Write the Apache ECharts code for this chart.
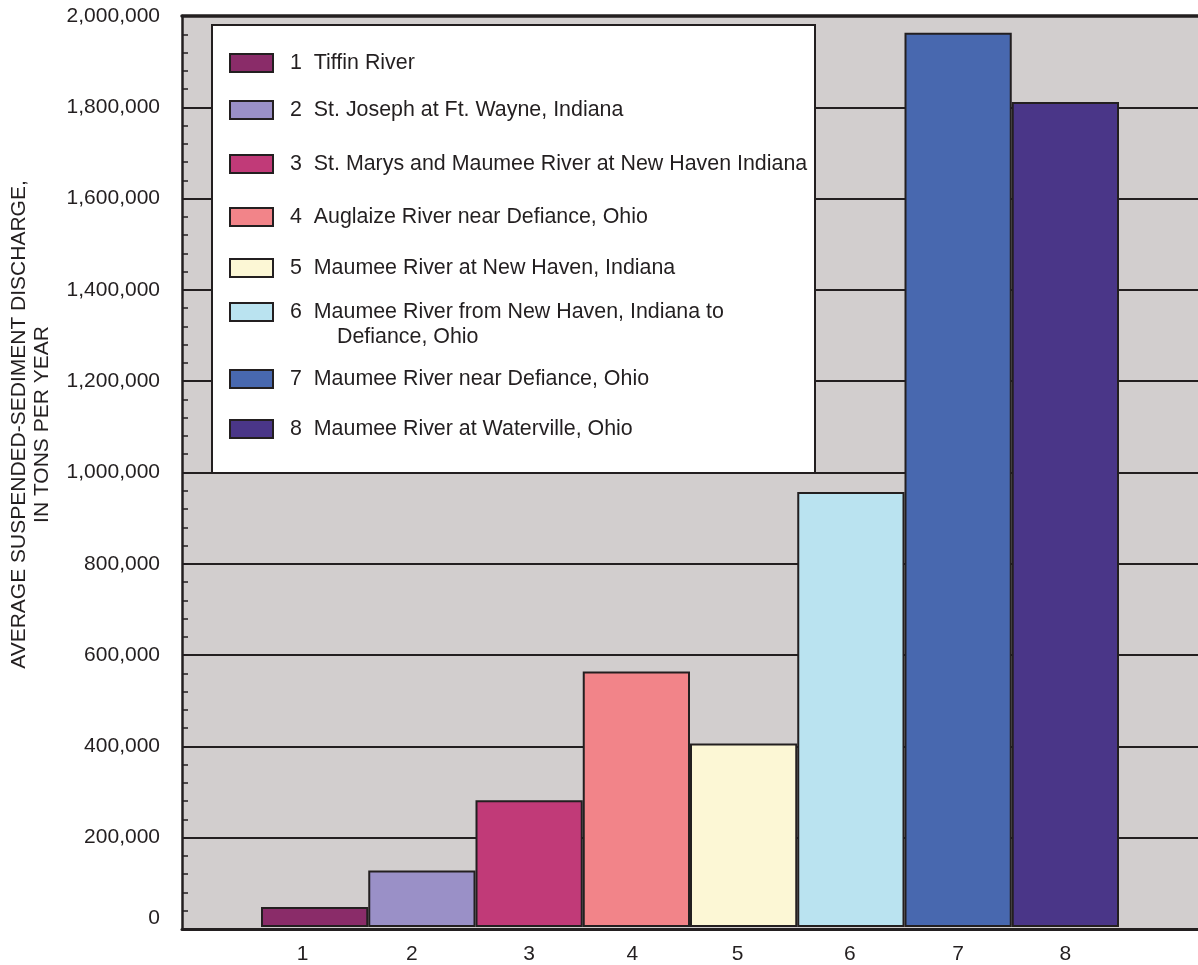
<!DOCTYPE html>
<html>
<head>
<meta charset="utf-8">
<script src="https://cdn.jsdelivr.net/npm/echarts@6/dist/echarts.min.js"></script>
<style>
  html, body { margin: 0; padding: 0; background: #ffffff; }
  #chart { width: 1198px; height: 965px; }
</style>
</head>
<body>
<div id="chart"></div>
<script>
// ---- data ----
const categories = ['1', '2', '3', '4', '5', '6', '7', '8'];
const siteNames = [
  '1  Tiffin River',
  '2  St. Joseph at Ft. Wayne, Indiana',
  '3  St. Marys and Maumee River at New Haven Indiana',
  '4  Auglaize River near Defiance, Ohio',
  '5  Maumee River at New Haven, Indiana',
  '6  Maumee River from New Haven, Indiana to\nDefiance, Ohio',
  '7  Maumee River near Defiance, Ohio',
  '8  Maumee River at Waterville, Ohio'
];
const dischargeValues = [44000, 124000, 278000, 561000, 403000, 955000, 1963000, 1811000];
const barColors = ['#8A2C69', '#9A90C7', '#C13A78', '#F28489', '#FCF7D5', '#BAE3F0', '#4868AF', '#4A3688'];
const yMin = 0, yMax = 2000000, yStep = 200000;
const yAxisTitle = 'AVERAGE SUSPENDED-SEDIMENT DISCHARGE,\nIN TONS PER YEAR';

// ---- layout ----
const FONT = '"Liberation Sans", Arial, Helvetica, sans-serif';
const INK = '#231F20';
const legendIconCenters = [63, 110, 164, 217, 268, 312, 379, 429];
const LEG_FS = 21.4;
// small leftward nudges of the category labels, as in the original artwork (px)
const xLabelNudge = [12, 10, 0, 4, 6, 1, 0, 0];

function fmt(v) {
  return String(v).replace(/\B(?=(\d{3})+(?!\d))/g, ',');
}

const chart = echarts.init(document.getElementById('chart'), null, { renderer: 'canvas' });

const series = siteNames.map((name, i) => ({
  name: name,
  type: 'bar',
  xAxisIndex: 2,
  yAxisIndex: 1,
  stack: 'all',
  barWidth: '100%',
  data: categories.map((c, j) => (j === i ? dischargeValues[i] : '-')),
  itemStyle: { color: barColors[i], borderColor: INK, borderWidth: 2 },
  emphasis: { disabled: true },
  z: 3
}));

const legends = siteNames.map((name, i) => {
  const twoLine = name.indexOf('\n') >= 0;
  return {
    data: [name],
    orient: 'vertical',
    left: 229,
    top: twoLine ? legendIconCenters[i] - 37.5 : legendIconCenters[i] - 11,
    padding: 0,
    itemWidth: 43,
    itemHeight: 18,
    icon: 'rect',
    selectedMode: false,
    z: 60,
    itemStyle: { borderColor: INK, borderWidth: 2 },
    formatter: function (n) {
      const parts = n.split('\n');
      if (parts.length > 1) {
        return '{a|' + parts[0] + '}\n{b|' + parts[1] + '}';
      }
      return '{a|' + n + '}';
    },
    textStyle: {
      fontFamily: FONT,
      fontSize: LEG_FS,
      color: INK,
      lineHeight: twoLine ? 25 : 22,
      padding: twoLine ? [25, 0, 0, 0] : 0,
      rich: {
        a: { fontFamily: FONT, fontSize: LEG_FS, color: INK, lineHeight: twoLine ? 25 : 22, padding: [0, 0, 0, 12] },
        b: { fontFamily: FONT, fontSize: LEG_FS, color: INK, lineHeight: 25, padding: [0, 0, 0, 59] }
      }
    }
  };
});

const xRich = {};
xLabelNudge.forEach((n, i) => {
  xRich['c' + i] = { fontFamily: FONT, fontSize: 21, color: INK, padding: [0, n * 2, 0, 0] };
});

const option = {
  animation: false,
  backgroundColor: '#ffffff',
  textStyle: { fontFamily: FONT },
  grid: [
    { left: 182, right: 0, top: 16, bottom: 36, show: true, backgroundColor: '#D2CECE', borderWidth: 0 },
    { left: 261, right: 79, top: 16, bottom: 36 }
  ],
  xAxis: [
    {
      gridIndex: 0, type: 'value', min: 0, max: 1, position: 'bottom',
      axisLine: { show: true, onZero: false, lineStyle: { color: INK, width: 3 } },
      axisTick: { show: false }, axisLabel: { show: false }, splitLine: { show: false }
    },
    {
      gridIndex: 0, type: 'value', min: 0, max: 1, position: 'top',
      axisLine: { show: true, onZero: false, lineStyle: { color: INK, width: 3.5 } },
      axisTick: { show: false }, axisLabel: { show: false }, splitLine: { show: false }
    },
    {
      gridIndex: 1, type: 'category', data: categories,
      axisLine: { show: false }, axisTick: { show: false },
      axisLabel: {
        fontFamily: FONT, fontSize: 21, color: INK, margin: 17,
        formatter: function (v, i) { return '{c' + i + '|' + v + '}'; },
        rich: xRich
      },
      splitLine: { show: false }
    }
  ],
  yAxis: [
    {
      gridIndex: 0, type: 'value', min: yMin, max: yMax, interval: yStep,
      name: yAxisTitle,
      nameLocation: 'middle',
      nameGap: 128,
      nameTextStyle: { fontFamily: FONT, fontSize: 21, color: INK, lineHeight: 23, padding: [0, 0, 0, 96] },
      axisLine: { show: true, lineStyle: { color: INK, width: 2.5 } },
      axisTick: { show: true, inside: true, length: 6, lineStyle: { color: INK, width: 1.5 } },
      minorTick: { show: true, splitNumber: 5, length: 6, lineStyle: { color: INK, width: 1.5 } },
      splitLine: { show: true, lineStyle: { color: INK, width: 2 } },
      axisLabel: {
        fontFamily: FONT, fontSize: 21, color: INK, margin: 22,
        formatter: function (v) { return v === 0 ? '{z|0}' : fmt(v); },
        rich: { z: { fontFamily: FONT, fontSize: 21, color: INK, padding: [0, 0, 22, 0] } }
      }
    },
    {
      gridIndex: 1, type: 'value', min: yMin, max: yMax, interval: yStep, show: false,
      splitLine: { show: false }
    }
  ],
  legend: legends,
  graphic: [
    {
      type: 'rect', z: 50, silent: true,
      shape: { x: 212, y: 25, width: 603, height: 448 },
      style: { fill: '#ffffff', stroke: INK, lineWidth: 2 }
    }
  ],
  series: series
};

chart.setOption(option);
</script>
</body>
</html>
